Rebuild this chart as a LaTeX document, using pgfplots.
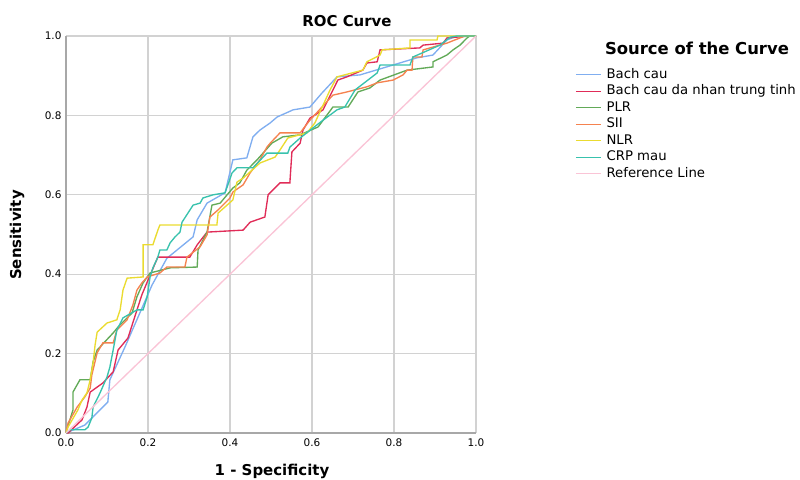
\documentclass[border=0pt]{standalone}
\usepackage{pgfplots}
\pgfplotsset{compat=1.18}
\usepackage{fontspec}
\setmainfont{DejaVu Sans}

\definecolor{cBlue}{HTML}{80AEF0}
\definecolor{cRed}{HTML}{E02C58}
\definecolor{cGreen}{HTML}{62AA58}
\definecolor{cOrange}{HTML}{F5824F}
\definecolor{cYellow}{HTML}{EADB30}
\definecolor{cTeal}{HTML}{38C2AD}
\definecolor{cRef}{HTML}{FAC4D6}
\definecolor{gridgray}{HTML}{D2D2D2}
\definecolor{axgray}{HTML}{A8A8A8}

\begin{document}
\begin{tikzpicture}[x=1bp,y=1bp]
\useasboundingbox (0,0) rectangle (800,480);

\begin{axis}[
    at={(66bp,47bp)}, anchor=south west,
    scale only axis,
    width=410bp, height=397bp,
    xmin=0, xmax=1, ymin=0, ymax=1,
    xtick={0,0.2,...,1.0}, ytick={0,0.2,...,1.0},
    axis x line=bottom, axis y line=left,
    axis line style={draw=axgray, line width=1.3bp, -},
    major tick length=0pt,
    grid=major,
    major grid style={draw=gridgray, line width=1.2bp},
    xticklabel style={font=\fontsize{10.5}{12}\selectfont, yshift=-2bp},
    yticklabel style={font=\fontsize{10.5}{12}\selectfont, xshift=-1bp},
    /pgf/number format/.cd, fixed, fixed zerofill, precision=1, assume math mode=true,
    /pgfplots/.cd,
    every axis plot/.append style={line width=1.35bp},
    legend style={at={(axis description cs:1.2415,0.918)}, anchor=north west,
        draw=none, fill=none, inner sep=0pt,
        font=\fontsize{13.3}{15}\selectfont,
        nodes={text height=9.5bp, text depth=2.5bp, inner sep=0pt},
        row sep=4.5bp, column sep=5bp},
    legend cell align=left,
    legend image code/.code={\draw[#1] (0bp,0bp) -- (25bp,0bp);},
    clip=false,
]

% Bach cau
\addplot[cBlue] coordinates {
(0,0) (0.046,0.02) (0.102,0.078) (0.107,0.134) (0.144,0.217) (0.21,0.373)
(0.246,0.44) (0.31,0.494) (0.32,0.537) (0.344,0.579) (0.388,0.605)
(0.407,0.688) (0.441,0.693) (0.456,0.746) (0.473,0.763) (0.498,0.781)
(0.515,0.796) (0.554,0.814) (0.595,0.821) (0.624,0.856) (0.661,0.897)
(0.717,0.902) (0.798,0.927) (0.856,0.945) (0.895,0.952) (0.929,0.99)
(0.954,1.0) (1,1)
};
\addlegendentry{Bach cau}

% Bach cau da nhan trung tinh
\addplot[cRed] coordinates {
(0,0) (0.005,0.0) (0.039,0.033) (0.051,0.065) (0.059,0.103) (0.09,0.126)
(0.115,0.154) (0.127,0.209) (0.151,0.239) (0.185,0.348) (0.2,0.385)
(0.224,0.443) (0.302,0.443) (0.32,0.474) (0.344,0.506) (0.432,0.511)
(0.449,0.531) (0.485,0.544) (0.493,0.6) (0.522,0.63) (0.546,0.63)
(0.551,0.708) (0.571,0.73) (0.578,0.763) (0.595,0.793) (0.627,0.814)
(0.651,0.864) (0.663,0.889) (0.685,0.897) (0.724,0.914) (0.734,0.932)
(0.759,0.935) (0.766,0.965) (0.863,0.97) (0.871,0.977) (0.92,0.982)
(0.929,0.995) (0.985,1.0) (1,1)
};
\addlegendentry{Bach cau da nhan trung tinh}

% PLR
\addplot[cGreen] coordinates {
(0,0) (0.002,0.008) (0.017,0.058) (0.017,0.103) (0.034,0.134) (0.059,0.134)
(0.066,0.179) (0.076,0.209) (0.115,0.252) (0.127,0.267) (0.149,0.29)
(0.161,0.302) (0.173,0.343) (0.188,0.378) (0.205,0.403) (0.254,0.416)
(0.32,0.418) (0.322,0.461) (0.344,0.506) (0.356,0.574) (0.376,0.579)
(0.393,0.6) (0.407,0.617) (0.424,0.63) (0.441,0.662) (0.466,0.688)
(0.502,0.73) (0.529,0.746) (0.571,0.751) (0.615,0.771) (0.651,0.821)
(0.688,0.821) (0.712,0.859) (0.741,0.869) (0.766,0.889) (0.832,0.914)
(0.895,0.922) (0.895,0.935) (0.929,0.952) (0.944,0.965) (0.961,0.977)
(0.978,0.995) (0.985,1.0) (1,1)
};
\addlegendentry{PLR}

% SII
\addplot[cOrange] coordinates {
(0,0) (0.005,0.025) (0.027,0.065) (0.046,0.091) (0.059,0.113) (0.063,0.146)
(0.076,0.202) (0.09,0.227) (0.115,0.227) (0.124,0.259) (0.149,0.285)
(0.163,0.322) (0.173,0.36) (0.185,0.378) (0.198,0.393) (0.229,0.403)
(0.246,0.418) (0.29,0.418) (0.295,0.443) (0.327,0.469) (0.344,0.499)
(0.351,0.544) (0.371,0.562) (0.4,0.592) (0.407,0.607) (0.432,0.625)
(0.449,0.655) (0.473,0.688) (0.49,0.72) (0.498,0.73) (0.522,0.756)
(0.571,0.756) (0.595,0.788) (0.651,0.851) (0.685,0.859) (0.734,0.872)
(0.759,0.882) (0.798,0.889) (0.822,0.902) (0.832,0.914) (0.844,0.914)
(0.846,0.947) (0.868,0.947) (0.871,0.965) (0.929,0.982) (0.973,1.0) (1,1)
};
\addlegendentry{SII}

% NLR
\addplot[cYellow] coordinates {
(0,0) (0.005,0.015) (0.029,0.058) (0.039,0.083) (0.051,0.101) (0.059,0.134)
(0.066,0.176) (0.071,0.222) (0.076,0.254) (0.1,0.277) (0.124,0.285)
(0.132,0.31) (0.139,0.36) (0.149,0.39) (0.188,0.393) (0.188,0.474)
(0.212,0.474) (0.224,0.511) (0.229,0.524) (0.368,0.524) (0.371,0.554)
(0.407,0.587) (0.417,0.632) (0.432,0.642) (0.473,0.68) (0.51,0.695)
(0.522,0.713) (0.541,0.743) (0.588,0.756) (0.607,0.781) (0.644,0.864)
(0.661,0.897) (0.724,0.914) (0.734,0.935) (0.766,0.952) (0.771,0.965)
(0.839,0.97) (0.839,0.99) (0.905,0.99) (0.907,1.0) (1,1)
};
\addlegendentry{NLR}

% CRP mau
\addplot[cTeal] coordinates {
(0,0) (0.01,0.008) (0.046,0.008) (0.054,0.015) (0.063,0.038) (0.066,0.065)
(0.083,0.101) (0.1,0.141) (0.107,0.166) (0.115,0.209) (0.124,0.259)
(0.139,0.29) (0.173,0.31) (0.188,0.31) (0.198,0.343) (0.205,0.393)
(0.212,0.416) (0.224,0.443) (0.229,0.461) (0.246,0.461) (0.254,0.479)
(0.266,0.494) (0.278,0.506) (0.283,0.531) (0.31,0.574) (0.327,0.579)
(0.334,0.592) (0.359,0.6) (0.388,0.605) (0.405,0.655) (0.417,0.668)
(0.456,0.668) (0.49,0.705) (0.541,0.705) (0.546,0.72) (0.571,0.743)
(0.602,0.768) (0.627,0.788) (0.661,0.814) (0.68,0.821) (0.705,0.864)
(0.759,0.907) (0.766,0.927) (0.839,0.927) (0.846,0.947) (0.912,0.977)
(0.937,0.997) (0.954,1.0) (1,1)
};
\addlegendentry{CRP mau}

% Reference Line
\addplot[cRef] coordinates {(0,0) (1,1)};
\addlegendentry{Reference Line}

\end{axis}

\node[font=\bfseries\fontsize{15}{17}\selectfont] at (347,459) {ROC Curve};
\node[font=\bfseries\fontsize{15}{17}\selectfont, rotate=90] at (17,245) {Sensitivity};
\node[font=\bfseries\fontsize{15}{17}\selectfont] at (272,9) {1 - Specificity};
\node[font=\bfseries\fontsize{16.5}{18}\selectfont] at (697,432) {Source of the Curve};
\end{tikzpicture}
\end{document}
